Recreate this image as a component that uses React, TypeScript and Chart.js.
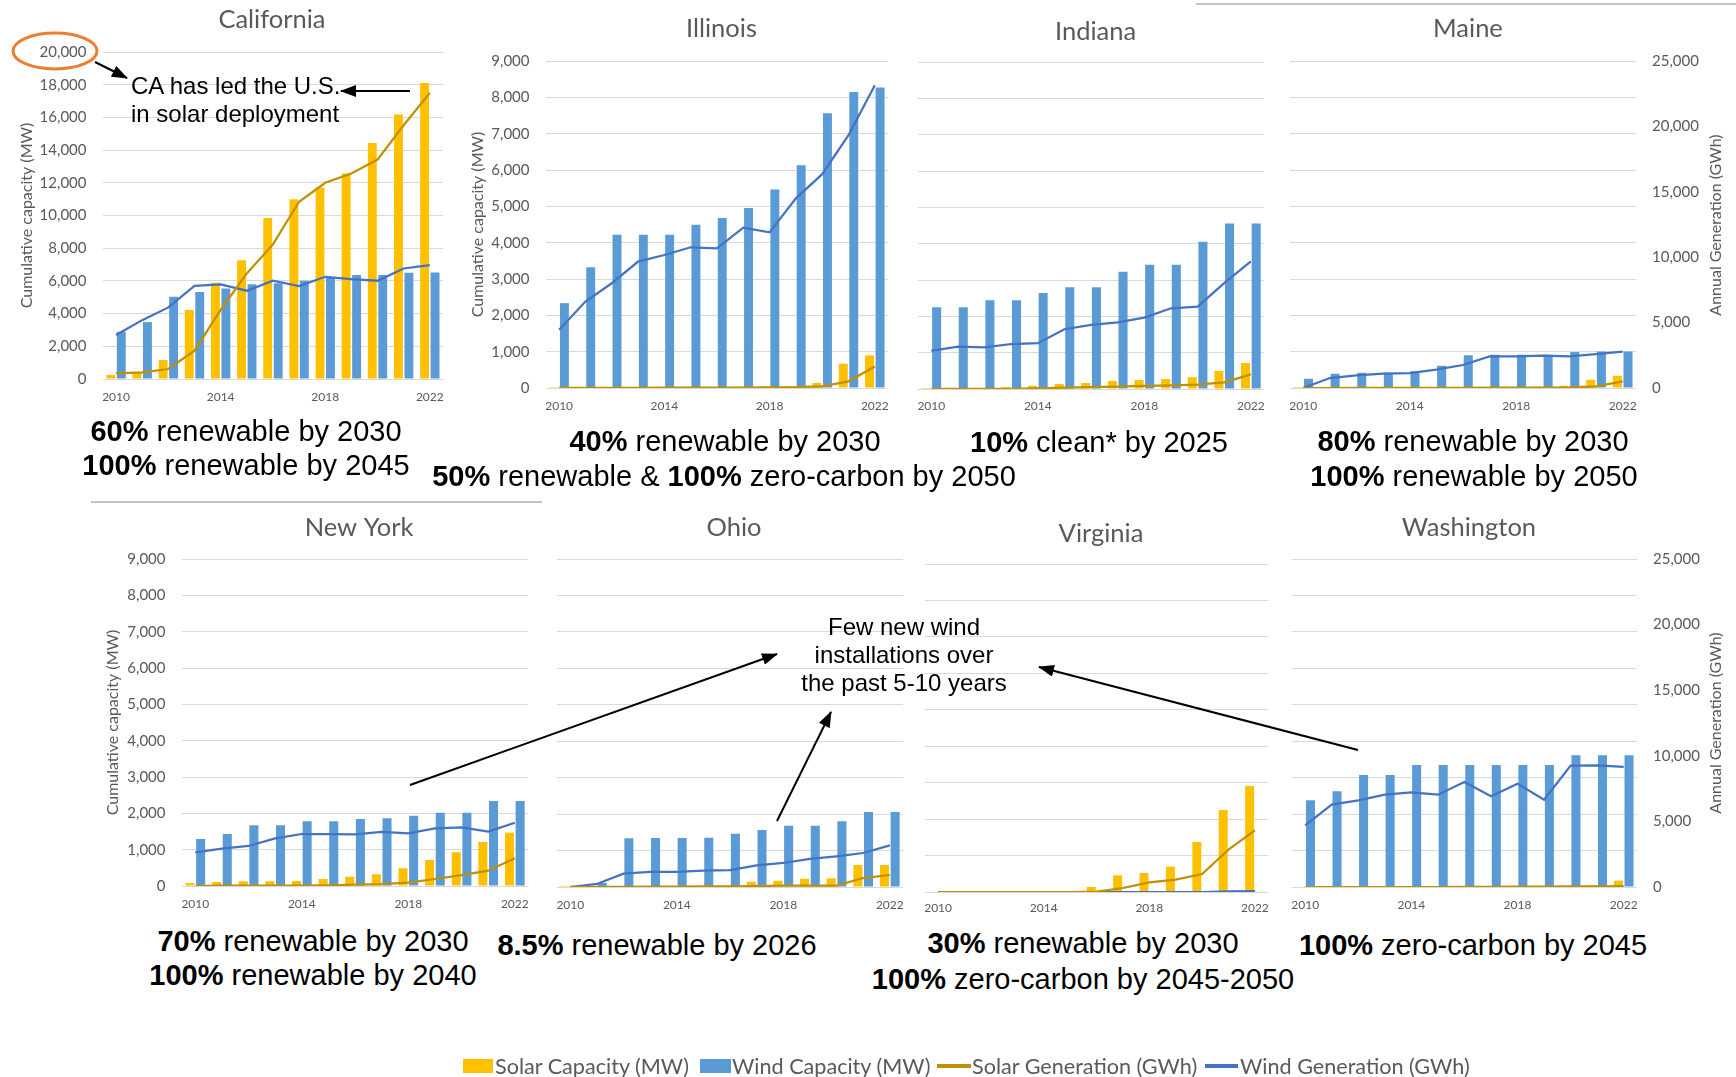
import React, { useEffect, useRef } from 'react';
import { Chart, registerables } from 'chart.js';

Chart.register(...registerables);

// ---------- Data ----------
const years = ['2010', '2011', '2012', '2013', '2014', '2015', '2016', '2017', '2018', '2019', '2020', '2021', '2022'];
const shownYears = ['2010', '2014', '2018', '2022'];

// California (capacity MW, generation GWh)
const caSolarCap = [250, 400, 1160, 4220, 5890, 7270, 9840, 11000, 11710, 12570, 14440, 16170, 18110];
const caWindCap = [2890, 3480, 5030, 5320, 5540, 5800, 5850, 6010, 6210, 6360, 6360, 6500, 6520];
const caSolarGen = [700, 820, 1220, 3460, 8440, 12920, 16460, 21680, 24000, 25140, 26840, 31040, 35000];
const caWindGen = [5380, 7200, 8760, 11400, 11560, 10800, 12020, 11360, 12500, 12220, 12020, 13520, 13940];

// Illinois
const ilSolarCap = [5, 8, 10, 15, 20, 25, 30, 35, 40, 46, 137, 668, 897];
const ilWindCap = [2335, 3324, 4221, 4221, 4221, 4496, 4679, 4953, 5466, 6134, 7563, 8149, 8268];
const ilSolarGen = [5, 8, 10, 15, 20, 25, 30, 35, 45, 60, 130, 510, 1650];
const ilWindGen = [4450, 6610, 8010, 9660, 10170, 10760, 10680, 12260, 11900, 14500, 16350, 19330, 23140];

// Indiana
const inSolarCap = [3, 4, 5, 46, 92, 138, 165, 220, 248, 276, 321, 496, 716];
const inWindCap = [2250, 2250, 2443, 2443, 2645, 2801, 2801, 3224, 3417, 3417, 4050, 4555, 4555];
const inSolarGen = [5, 5, 8, 15, 50, 100, 150, 180, 230, 280, 330, 510, 1120];
const inWindGen = [2910, 3240, 3190, 3440, 3500, 4570, 4900, 5100, 5460, 6170, 6300, 8090, 9750];

// Maine
const meSolarCap = [2, 3, 5, 8, 10, 12, 15, 20, 25, 35, 64, 229, 339];
const meWindCap = [257, 394, 422, 422, 458, 614, 898, 917, 917, 917, 990, 1008, 1008];
const meSolarGen = [0, 0, 5, 5, 10, 10, 15, 20, 25, 30, 40, 127, 509];
const meWindGen = [0, 764, 967, 1095, 1146, 1400, 1757, 2419, 2419, 2470, 2419, 2597, 2775];

// New York
const nySolarCap = [83, 110, 128, 128, 138, 193, 257, 321, 486, 716, 927, 1211, 1468];
const nyWindCap = [1294, 1431, 1670, 1670, 1780, 1780, 1844, 1862, 1936, 2018, 2018, 2339, 2339];
const nySolarGen = [0, 25, 25, 25, 25, 50, 100, 150, 255, 535, 840, 1170, 2115];
const nyWindGen = [2575, 2855, 3060, 3645, 3975, 3975, 3950, 4130, 4030, 4410, 4485, 4155, 4840];

// Ohio
const ohSolarCap = [2, 3, 5, 8, 10, 15, 20, 146, 174, 229, 238, 604, 604];
const ohWindCap = [7, 110, 1335, 1344, 1344, 1354, 1463, 1564, 1683, 1683, 1802, 2058, 2058];
const ohSolarGen = [5, 10, 15, 20, 30, 40, 50, 75, 100, 100, 100, 685, 915];
const ohWindGen = [0, 230, 1015, 1145, 1145, 1245, 1295, 1650, 1830, 2135, 2340, 2590, 3175];

// Virginia
const vaSolarCap = [0, 0, 0, 0, 0, 5, 137, 457, 521, 694, 1371, 2248, 2906];
const vaWindCap = [0, 0, 0, 0, 0, 0, 0, 0, 0, 0, 0, 12, 12];
const vaSolarGen = [0, 0, 0, 0, 0, 0, 25, 305, 735, 940, 1370, 3225, 4695];
const vaWindGen = [0, 0, 0, 0, 0, 0, 0, 0, 0, 0, 0, 50, 75];

// Washington
const waSolarCap = [0, 0, 0, 0, 0, 0, 5, 10, 15, 20, 30, 40, 174];
const waWindCap = [2378, 2625, 3073, 3073, 3347, 3347, 3347, 3347, 3347, 3347, 3613, 3613, 3613];
const waSolarGen = [0, 0, 0, 0, 0, 0, 5, 10, 20, 30, 40, 50, 60];
const waWindGen = [4700, 6276, 6606, 7038, 7216, 7038, 8004, 6911, 7877, 6657, 9249, 9274, 9148];

const legendLabels = ['Solar Capacity (MW)', 'Wind Capacity (MW)', 'Solar Generation (GWh)', 'Wind Generation (GWh)'];
const leftAxisTitle = 'Cumulative capacity (MW)';
const rightAxisTitle = 'Annual Generation (GWh)';

// ---------- Styles ----------
const SOLAR_BAR = '#FFC000';
const WIND_BAR = '#5B9BD5';
const SOLAR_LINE = '#BF9000';
const WIND_LINE = '#4472C4';
const GRID = '#D9D9D9';
const AXIS_TEXT = '#595959';
const FONT = 'Lato, "Open Sans", sans-serif';
const ANNO_FONT = '"Liberation Sans", Arial, sans-serif';

type PanelSpec = {
  title: string;
  left: number;
  width: number;
  plotLeft: number;
  plotRight: number;
  plotTop: number;
  plotBottom: number;
  titleX: number;
  titleY: number;
  xLabelY: number;
  leftMax: number;
  leftStep: number;
  showLeftTicks: boolean;
  leftTitleX?: number;
  rightMax: number;
  showRight: boolean;
  solarCap: number[];
  windCap: number[];
  solarGen: number[];
  windGen: number[];
};

const panels: PanelSpec[] = [
  { title: 'California', left: 0, width: 455, plotLeft: 103, plotRight: 443, plotTop: 52, plotBottom: 379, titleX: 272, titleY: 19, xLabelY: 397, leftMax: 20000, leftStep: 2000, showLeftTicks: true, leftTitleX: 27, rightMax: 40000, showRight: false, solarCap: caSolarCap, windCap: caWindCap, solarGen: caSolarGen, windGen: caWindGen },
  { title: 'Illinois', left: 455, width: 445, plotLeft: 546, plotRight: 893, plotTop: 61, plotBottom: 388, titleX: 724, titleY: 28, xLabelY: 406, leftMax: 9000, leftStep: 1000, showLeftTicks: true, leftTitleX: 478, rightMax: 25000, showRight: false, solarCap: ilSolarCap, windCap: ilWindCap, solarGen: ilSolarGen, windGen: ilWindGen },
  { title: 'Indiana', left: 905, width: 370, plotLeft: 918, plotRight: 1267, plotTop: 62, plotBottom: 389, titleX: 1097, titleY: 31, xLabelY: 406, leftMax: 9000, leftStep: 1000, showLeftTicks: false, rightMax: 25000, showRight: false, solarCap: inSolarCap, windCap: inWindCap, solarGen: inSolarGen, windGen: inWindGen },
  { title: 'Maine', left: 1278, width: 458, plotLeft: 1286, plotRight: 1636, plotTop: 61, plotBottom: 388, titleX: 1466, titleY: 28, xLabelY: 406, leftMax: 9000, leftStep: 1000, showLeftTicks: false, rightMax: 25000, showRight: true, solarCap: meSolarCap, windCap: meWindCap, solarGen: meSolarGen, windGen: meWindGen },
  { title: 'New York', left: 85, width: 455, plotLeft: 182, plotRight: 530, plotTop: 559, plotBottom: 886, titleX: 360, titleY: 527, xLabelY: 904, leftMax: 9000, leftStep: 1000, showLeftTicks: true, leftTitleX: 113, rightMax: 25000, showRight: false, solarCap: nySolarCap, windCap: nyWindCap, solarGen: nySolarGen, windGen: nyWindGen },
  { title: 'Ohio', left: 545, width: 370, plotLeft: 557, plotRight: 907, plotTop: 559, plotBottom: 887, titleX: 736, titleY: 527, xLabelY: 905, leftMax: 9000, leftStep: 1000, showLeftTicks: false, rightMax: 25000, showRight: false, solarCap: ohSolarCap, windCap: ohWindCap, solarGen: ohSolarGen, windGen: ohWindGen },
  { title: 'Virginia', left: 915, width: 363, plotLeft: 924, plotRight: 1271, plotTop: 564, plotBottom: 892, titleX: 1102, titleY: 533, xLabelY: 908, leftMax: 9000, leftStep: 1000, showLeftTicks: false, rightMax: 25000, showRight: false, solarCap: vaSolarCap, windCap: vaWindCap, solarGen: vaSolarGen, windGen: vaWindGen },
  { title: 'Washington', left: 1280, width: 456, plotLeft: 1288, plotRight: 1637, plotTop: 559, plotBottom: 887, titleX: 1467, titleY: 527, xLabelY: 905, leftMax: 9000, leftStep: 1000, showLeftTicks: false, rightMax: 25000, showRight: true, solarCap: waSolarCap, windCap: waWindCap, solarGen: waSolarGen, windGen: waWindGen },
];

function Panel({ p }: { p: PanelSpec }) {
  const ref = useRef<HTMLCanvasElement>(null);
  const top = p.titleY - 17;
  const height = p.xLabelY + 14 - top;
  useEffect(() => {
    if (!ref.current) return;
    const axisTitleLH = 16 * 1.2;
    const titleShift = {
      id: 'titleShift',
      afterLayout(chart: any) {
        const t = chart.titleBlock;
        if (!t) return;
        const dx = p.titleX - (p.plotLeft + p.plotRight) / 2;
        t.left = chart.chartArea.left + dx;
        t.right = chart.chartArea.right + dx;
      },
    };
    const chart = new Chart(ref.current, {
      type: 'bar',
      data: {
        labels: years,
        datasets: [
          { type: 'line', label: legendLabels[2], data: p.solarGen, yAxisID: 'y1', borderColor: SOLAR_LINE, backgroundColor: SOLAR_LINE, borderWidth: 2.25, pointRadius: 0, tension: 0, order: 0 } as any,
          { type: 'line', label: legendLabels[3], data: p.windGen, yAxisID: 'y1', borderColor: WIND_LINE, backgroundColor: WIND_LINE, borderWidth: 2.25, pointRadius: 0, tension: 0, order: 0 } as any,
          { type: 'bar', label: legendLabels[0], data: p.solarCap, yAxisID: 'y', backgroundColor: SOLAR_BAR, categoryPercentage: 0.8, barPercentage: 0.85, order: 1 } as any,
          { type: 'bar', label: legendLabels[1], data: p.windCap, yAxisID: 'y', backgroundColor: WIND_BAR, categoryPercentage: 0.8, barPercentage: 0.85, order: 1 } as any,
        ],
      },
      plugins: [titleShift],
      options: {
        responsive: false,
        animation: false,
        events: [],
        layout: {
          padding: { left: 0, top: 0, bottom: 0, right: p.showRight ? 0 : p.left + p.width - p.plotRight },
        },
        plugins: {
          legend: { display: false },
          tooltip: { enabled: false },
          title: {
            display: true,
            text: p.title,
            fullSize: false,
            color: AXIS_TEXT,
            font: { family: FONT, size: 25.5, weight: 'normal', lineHeight: 1.2 },
            padding: { top: 2, bottom: p.plotTop - top - 2 - 25.5 * 1.2 },
          },
        },
        scales: {
          x: {
            type: 'category',
            offset: true,
            grid: { display: false, drawTicks: false },
            border: { display: false },
            ticks: {
              autoSkip: false,
              maxRotation: 0,
              minRotation: 0,
              padding: p.xLabelY - p.plotBottom - 7.2,
              color: AXIS_TEXT,
              font: { family: FONT, size: 12 },
              callback: (_v: any, i: number) => (shownYears.includes(years[i]) ? years[i] : ''),
            },
            afterFit: (s: any) => {
              s.height = top + height - p.plotBottom;
            },
          },
          y: {
            position: 'left',
            min: 0,
            max: p.leftMax,
            grid: { color: GRID, lineWidth: 1, drawTicks: false },
            border: { display: false },
            ticks: {
              display: p.showLeftTicks,
              stepSize: p.leftStep,
              padding: 16.5,
              color: AXIS_TEXT,
              font: { family: FONT, size: 15 },
            },
            title: {
              display: p.leftTitleX !== undefined,
              text: leftAxisTitle,
              color: AXIS_TEXT,
              font: { family: FONT, size: 16, lineHeight: 1.2 },
              padding: { top: (p.leftTitleX ?? 0) - p.left - axisTitleLH / 2, bottom: 0 },
            },
            afterFit: (s: any) => {
              s.width = p.plotLeft - p.left;
            },
          },
          y1: {
            position: 'right',
            display: p.showRight,
            min: 0,
            max: p.rightMax,
            grid: { display: false, drawTicks: false },
            border: { display: false },
            ticks: {
              stepSize: 5000,
              padding: 16,
              color: AXIS_TEXT,
              font: { family: FONT, size: 15 },
            },
            afterFit: (s: any) => {
              s.width = p.showRight ? p.left + p.width - p.plotRight : 0;
            },
          },
        },
      } as any,
    });
    return () => chart.destroy();
  }, []);
  return (
    <canvas
      ref={ref}
      width={p.width}
      height={height}
      style={{ position: 'absolute', left: p.left, top, width: p.width, height }}
    />
  );
}

function Goal({ cx, cy, children, size = 29 }: { cx: number; cy: number; children: React.ReactNode; size?: number }) {
  const lh = 34;
  return (
    <div
      style={{
        position: 'absolute',
        left: cx - 350,
        top: cy - lh / 2,
        width: 700,
        height: lh,
        lineHeight: `${lh}px`,
        textAlign: 'center',
        fontFamily: ANNO_FONT,
        fontSize: size,
        color: '#000',
        whiteSpace: 'nowrap',
      }}
    >
      {children}
    </div>
  );
}

function RightTitle({ cx, cy }: { cx: number; cy: number }) {
  return (
    <div
      style={{
        position: 'absolute',
        left: cx - 130,
        top: cy - 10,
        width: 260,
        height: 20,
        lineHeight: '20px',
        textAlign: 'center',
        transform: 'rotate(-90deg)',
        fontFamily: FONT,
        fontSize: 16,
        color: AXIS_TEXT,
        whiteSpace: 'nowrap',
      }}
    >
      {rightAxisTitle}
    </div>
  );
}

function Legend() {
  const items = [
    { kind: 'box', color: SOLAR_BAR, x0: 463, x1: 493, tx: 495, label: legendLabels[0] },
    { kind: 'box', color: WIND_BAR, x0: 700, x1: 731, tx: 732, label: legendLabels[1] },
    { kind: 'line', color: SOLAR_LINE, x0: 937, x1: 971, tx: 972, label: legendLabels[2] },
    { kind: 'line', color: WIND_LINE, x0: 1205, x1: 1238, tx: 1240, label: legendLabels[3] },
  ];
  const cy = 1066;
  return (
    <>
      {items.map((it) => (
        <React.Fragment key={it.label}>
          <div
            style={{
              position: 'absolute',
              left: it.x0,
              top: it.kind === 'box' ? cy - 7 : cy - 2,
              width: it.x1 - it.x0,
              height: it.kind === 'box' ? 14 : 4,
              background: it.color,
            }}
          />
          <div
            style={{
              position: 'absolute',
              left: it.tx,
              top: cy - 13,
              height: 26,
              lineHeight: '26px',
              fontFamily: FONT,
              fontSize: 21.6,
              color: AXIS_TEXT,
              whiteSpace: 'nowrap',
            }}
          >
            {it.label}
          </div>
        </React.Fragment>
      ))}
    </>
  );
}

export default function App() {
  return (
    <div
      style={{
        position: 'absolute',
        left: 0,
        top: 0,
        width: 1736,
        height: 1077,
        background: '#fff',
        overflow: 'hidden',
      }}
    >
      {panels.map((p) => (
        <Panel key={p.title} p={p} />
      ))}
      <RightTitle cx={1715} cy={225} />
      <RightTitle cx={1715} cy={723} />

      {/* Policy goals */}
      <Goal cx={246} cy={431}><b>60%</b> renewable by 2030</Goal>
      <Goal cx={246} cy={465}><b>100%</b> renewable by 2045</Goal>
      <Goal cx={725} cy={441}><b>40%</b> renewable by 2030</Goal>
      <Goal cx={724} cy={476}><b>50%</b> renewable &amp; <b>100%</b> zero-carbon by 2050</Goal>
      <Goal cx={1099} cy={442}><b>10%</b> clean* by 2025</Goal>
      <Goal cx={1473} cy={441}><b>80%</b> renewable by 2030</Goal>
      <Goal cx={1474} cy={476}><b>100%</b> renewable by 2050</Goal>
      <Goal cx={313} cy={941}><b>70%</b> renewable by 2030</Goal>
      <Goal cx={313} cy={975}><b>100%</b> renewable by 2040</Goal>
      <Goal cx={657} cy={945}><b>8.5%</b> renewable by 2026</Goal>
      <Goal cx={1083} cy={943}><b>30%</b> renewable by 2030</Goal>
      <Goal cx={1083} cy={979}><b>100%</b> zero-carbon by 2045-2050</Goal>
      <Goal cx={1473} cy={945}><b>100%</b> zero-carbon by 2045</Goal>

      {/* Callouts */}
      <div style={{ position: 'absolute', left: 131, top: 72, lineHeight: '28px', fontFamily: ANNO_FONT, fontSize: 24, color: '#000', whiteSpace: 'nowrap' }}>
        CA has led the U.S.<br />in solar deployment
      </div>
      <div style={{ position: 'absolute', left: 754, top: 613, width: 300, lineHeight: '28px', textAlign: 'center', fontFamily: ANNO_FONT, fontSize: 24, color: '#000', whiteSpace: 'nowrap' }}>
        Few new wind<br />installations over<br />the past 5-10 years
      </div>

      <svg width={1736} height={1077} style={{ position: 'absolute', left: 0, top: 0, pointerEvents: 'none' }}>
        <defs>
          <marker id="ah" viewBox="0 0 16 12" refX="15" refY="6" markerWidth="16" markerHeight="12" markerUnits="userSpaceOnUse" orient="auto">
            <path d="M0,0 L16,6 L0,12 Z" fill="#000" />
          </marker>
        </defs>
        <line x1={1196} y1={4} x2={1736} y2={4} stroke="#AFAFAF" strokeWidth={1.5} />
        <line x1={91} y1={502} x2={542} y2={502} stroke="#AFAFAF" strokeWidth={1.5} />
        <ellipse cx={55} cy={51} rx={42} ry={18} fill="none" stroke="#ED7D31" strokeWidth={3} />
        <line x1={95} y1={62} x2={127} y2={78} stroke="#000" strokeWidth={2} markerEnd="url(#ah)" />
        <line x1={410} y1={91} x2={341} y2={91} stroke="#000" strokeWidth={2} markerEnd="url(#ah)" />
        <line x1={410} y1={785} x2={777} y2={654} stroke="#000" strokeWidth={2} markerEnd="url(#ah)" />
        <line x1={777} y1={821} x2={831} y2={712} stroke="#000" strokeWidth={2} markerEnd="url(#ah)" />
        <line x1={1358} y1={750} x2={1039} y2={667} stroke="#000" strokeWidth={2} markerEnd="url(#ah)" />
      </svg>
      <Legend />
    </div>
  );
}
